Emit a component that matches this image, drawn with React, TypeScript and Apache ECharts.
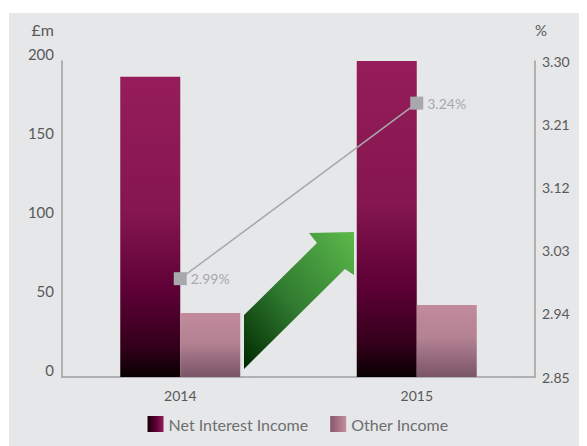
import React, { useEffect, useRef } from "react";
import * as echarts from "echarts";

const categories = ["2014", "2015"];
const netInterestIncome = [190, 200];
const otherIncome = [40.5, 45.5];
const netInterestMargin = [2.99, 3.24];
const leftTicks = [0, 50, 100, 150, 200];
const rightTicks = [2.85, 2.94, 3.03, 3.12, 3.21, 3.3];

const FONT = "Lato, 'Open Sans', sans-serif";

export default function App() {
  const ref = useRef<HTMLDivElement>(null);
  useEffect(() => {
    if (!ref.current) return;
    const chart = echarts.init(ref.current, null, { renderer: "svg" });
    const vGrad = (stops: [number, string][]) =>
      new echarts.graphic.LinearGradient(0, 0, 0, 1, stops.map(([offset, color]) => ({ offset, color })));
    const hGrad = (stops: [number, string][]) =>
      new echarts.graphic.LinearGradient(0, 0, 1, 0, stops.map(([offset, color]) => ({ offset, color })));

    chart.setOption({
      animation: false,
      backgroundColor: "#e6e7e8",
      textStyle: { fontFamily: FONT },
      grid: { left: 53, right: 52, top: 48, bottom: 69, containLabel: false },
      legend: {
        bottom: 9,
        left: "center",
        itemWidth: 16,
        itemHeight: 16,
        itemGap: 22,
        textStyle: { color: "#6d6e71", fontSize: 16, fontFamily: FONT },
        data: [
          {
            name: "Net Interest Income",
            icon: "rect",
            itemStyle: { color: hGrad([[0, "#140006"], [0.5, "#5a0033"], [1, "#951d5a"]]) },
          },
          {
            name: "Other Income",
            icon: "rect",
            itemStyle: { color: hGrad([[0, "#86586a"], [1, "#c58d9e"]]) },
          },
        ],
      },
      xAxis: {
        type: "category",
        data: categories,
        axisLine: { lineStyle: { color: "#9d9fa2", width: 1.5 } },
        axisTick: { show: false },
        axisLabel: { color: "#58595b", fontSize: 14, margin: 11, fontFamily: FONT },
      },
      yAxis: [
        {
          type: "value",
          min: leftTicks[0],
          max: leftTicks[leftTicks.length - 1],
          interval: 50,
          name: "£m",
          nameLocation: "end",
          nameGap: 24,
          nameTextStyle: { color: "#58595b", fontSize: 16, align: "right", padding: [0, 8, 0, 0], fontFamily: FONT },
          axisLine: { show: true, lineStyle: { color: "#9d9fa2", width: 1.5 } },
          axisTick: { show: false },
          splitLine: { show: false },
          axisLabel: { color: "#58595b", fontSize: 15, margin: 8, verticalAlign: "bottom", fontFamily: FONT },
        },
        {
          type: "value",
          position: "right",
          min: rightTicks[0],
          max: rightTicks[rightTicks.length - 1],
          name: "%",
          nameLocation: "end",
          nameGap: 24,
          nameTextStyle: { color: "#58595b", fontSize: 15, align: "left", padding: [0, 0, 0, 0], fontFamily: FONT },
          axisLine: { show: true, lineStyle: { color: "#9d9fa2", width: 1.5 } },
          axisTick: { show: false },
          splitLine: { show: false },
          axisLabel: {
            color: "#58595b",
            fontSize: 14,
            margin: 7,
            customValues: rightTicks,
            formatter: (v: number) => v.toFixed(2),
            fontFamily: FONT,
          },
        },
      ],
      series: [
        {
          name: "Net Interest Income",
          type: "bar",
          barWidth: 60,
          barGap: "0%",
          data: netInterestIncome,
          itemStyle: {
            color: vGrad([
              [0, "#951d5a"],
              [0.45, "#85164f"],
              [0.72, "#5c0035"],
              [0.9, "#33001a"],
              [1, "#080000"],
            ]),
          },
        },
        {
          name: "Other Income",
          type: "bar",
          barWidth: 60,
          barGap: "0%",
          data: otherIncome,
          itemStyle: { color: vGrad([[0, "#c18b9c"], [0.45, "#b48293"], [1, "#7a5566"]]) },
        },
        {
          name: "Net Interest Margin",
          type: "line",
          yAxisIndex: 1,
          data: netInterestMargin,
          symbol: "rect",
          symbolSize: 13,
          lineStyle: { color: "#a7a9ac", width: 1.5 },
          itemStyle: { color: "#a7a9ac" },
          label: {
            show: true,
            position: "right",
            distance: 4,
            color: "#a7a9ac",
            fontSize: 14,
            fontFamily: FONT,
            formatter: (p: any) => p.value.toFixed(2) + "%",
          },
          z: 5,
        },
      ],
      graphic: [
        {
          type: "polygon",
          z: 10,
          shape: {
            points: [
              [235, 356],
              [235, 302],
              [308, 230],
              [300, 220],
              [345, 219],
              [345, 262],
              [336, 256],
            ],
          },
          style: {
            fill: new echarts.graphic.LinearGradient(0, 1, 1, 0, [
              { offset: 0, color: "#002800" },
              { offset: 0.45, color: "#2f7a30" },
              { offset: 1, color: "#5cb94a" },
            ]),
          },
        },
      ],
    });
    return () => chart.dispose();
  }, []);

  return (
    <div style={{ paddingTop: 5, paddingLeft: 1 }}>
      <div ref={ref} style={{ width: 578, height: 433 }} />
    </div>
  );
}
